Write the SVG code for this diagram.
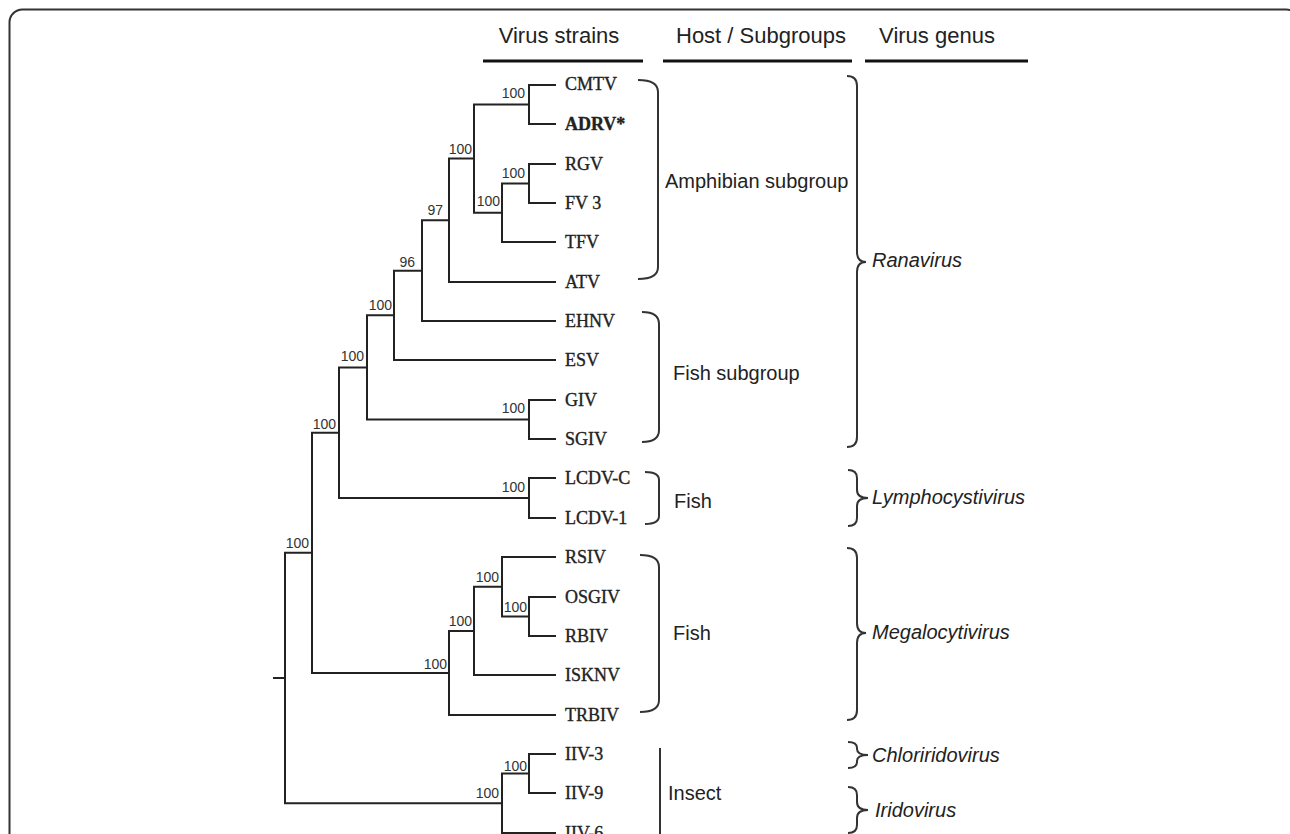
<svg xmlns="http://www.w3.org/2000/svg" width="1290" height="834" viewBox="0 0 1290 834">
<style>
.hd{font-family:"Liberation Sans",Arial,sans-serif;font-size:22px;fill:#222;text-anchor:middle}
.ul{stroke:#111;stroke-width:3;fill:none}
.lf{font-family:"Liberation Serif","Times New Roman",serif;font-size:18px;fill:#222;stroke:#222;stroke-width:0.35}
.bs{font-family:"Liberation Sans",Arial,sans-serif;font-size:14px;fill:#333;text-anchor:end}
.br{stroke:#222;stroke-width:2;fill:none}
.hs{font-family:"Liberation Sans",Arial,sans-serif;font-size:20px;fill:#222}
.gn{font-family:"Liberation Sans",Arial,sans-serif;font-size:20px;font-style:italic;fill:#222}
.bk{stroke:#333;stroke-width:2;fill:none}
</style>
<rect x="9.5" y="9.5" width="1290" height="900" rx="13" fill="#fff" stroke="#333" stroke-width="2"/>
<g id="headers">
<text class="hd" x="559" y="43">Virus strains</text>
<line class="ul" x1="483" y1="61" x2="643" y2="61"/>
<text class="hd" x="761" y="43">Host / Subgroups</text>
<line class="ul" x1="663" y1="61" x2="852" y2="61"/>
<text class="hd" x="937" y="43">Virus genus</text>
<line class="ul" x1="865" y1="61" x2="1028" y2="61"/>
</g>
<g id="connectors" class="br">
<path d="M273,678 H285"/>
<path d="M312,552.8 H285 V803.3 H502"/>
<path d="M339,432.7 H312 V673 H449"/>
<path d="M367,367.4 H339 V498 H529"/>
<path d="M394,315.3 H367 V419.5 H529"/>
<path d="M422,270.7 H394 V360 H556"/>
<path d="M449,220.3 H422 V321 H556"/>
<path d="M474,158.6 H449 V282 H556"/>
<path d="M529,104.5 H474 V212.75 H502"/>
<path d="M556,85 H529 V124 H556"/>
<path d="M529,183.5 H502 V242 H556"/>
<path d="M556,164 H529 V203 H556"/>
<path d="M556,400 H529 V439 H556"/>
<path d="M556,478 H529 V518 H556"/>
<path d="M474,630.9 H449 V715 H556"/>
<path d="M502,586.8 H474 V675 H556"/>
<path d="M556,557 H502 V616.5 H529"/>
<path d="M556,597 H529 V636 H556"/>
<path d="M529,773.5 H502 V833 H556"/>
<path d="M556,754 H529 V793 H556"/>
</g>
<g id="bootstrap">
<text class="bs" x="525" y="98">100</text>
<text class="bs" x="525" y="178">100</text>
<text class="bs" x="500" y="206">100</text>
<text class="bs" x="472" y="154">100</text>
<text class="bs" x="443" y="215">97</text>
<text class="bs" x="415" y="267">96</text>
<text class="bs" x="392" y="310">100</text>
<text class="bs" x="525" y="413">100</text>
<text class="bs" x="364" y="361">100</text>
<text class="bs" x="525" y="492">100</text>
<text class="bs" x="336" y="429">100</text>
<text class="bs" x="309" y="548">100</text>
<text class="bs" x="527" y="612">100</text>
<text class="bs" x="499" y="582">100</text>
<text class="bs" x="472" y="626">100</text>
<text class="bs" x="447" y="669">100</text>
<text class="bs" x="527" y="771">100</text>
<text class="bs" x="499" y="798">100</text>
</g>
<g id="leaves">
<g id="CMTV"><text class="lf" x="565" y="90">CMTV</text></g>
<g id="ADRV"><text class="lf" x="565" y="130" font-weight="bold">ADRV*</text></g>
<g id="RGV"><text class="lf" x="565" y="170">RGV</text></g>
<g id="FV3"><text class="lf" x="565" y="209">FV 3</text></g>
<g id="TFV"><text class="lf" x="565" y="248">TFV</text></g>
<g id="ATV"><text class="lf" x="565" y="288">ATV</text></g>
<g id="EHNV"><text class="lf" x="565" y="327">EHNV</text></g>
<g id="ESV"><text class="lf" x="565" y="366">ESV</text></g>
<g id="GIV"><text class="lf" x="565" y="406">GIV</text></g>
<g id="SGIV"><text class="lf" x="565" y="445">SGIV</text></g>
<g id="LCDV-C"><text class="lf" x="565" y="484">LCDV-C</text></g>
<g id="LCDV-1"><text class="lf" x="565" y="524">LCDV-1</text></g>
<g id="RSIV"><text class="lf" x="565" y="563">RSIV</text></g>
<g id="OSGIV"><text class="lf" x="565" y="603">OSGIV</text></g>
<g id="RBIV"><text class="lf" x="565" y="642">RBIV</text></g>
<g id="ISKNV"><text class="lf" x="565" y="681">ISKNV</text></g>
<g id="TRBIV"><text class="lf" x="565" y="721">TRBIV</text></g>
<g id="IIV-3"><text class="lf" x="565" y="760">IIV-3</text></g>
<g id="IIV-9"><text class="lf" x="565" y="799">IIV-9</text></g>
<g id="IIV-6"><text class="lf" x="565" y="839">IIV-6</text></g>
</g>
<g id="host-amphibian">
<path class="bk" d="M638,80 Q658,80 658,92 V267 Q658,279 638,279"/>
<text class="hs" x="665" y="188">Amphibian subgroup</text>
</g>
<g id="host-fish-subgroup">
<path class="bk" d="M642,312 Q659,312 659,324 V430 Q659,442 642,442"/>
<text class="hs" x="673" y="380">Fish subgroup</text>
</g>
<g id="host-fish-lcdv">
<path class="bk" d="M645,472 Q659,472 659,480 V516 Q659,524 645,524"/>
<text class="hs" x="674" y="508">Fish</text>
</g>
<g id="host-fish-megalo">
<path class="bk" d="M640,555 Q659,555 659,567 V700 Q659,712 640,712"/>
<text class="hs" x="673" y="640">Fish</text>
</g>
<g id="host-insect">
<line class="bk" x1="660" y1="748" x2="660" y2="840"/>
<text class="hs" x="668" y="800">Insect</text>
</g>
<g id="genus-ranavirus">
<path class="bk" d="M847,76 Q857,76 857,86 V252 Q857,262 866,262 Q857,262 857,272 V437 Q857,447 847,447"/>
<text class="gn" x="872" y="267">Ranavirus</text>
</g>
<g id="genus-lymphocystivirus">
<path class="bk" d="M848,470 Q857,470 857,478 V490 Q857,498 868,498 Q857,498 857,506 V518 Q857,526 848,526"/>
<text class="gn" x="872" y="504">Lymphocystivirus</text>
</g>
<g id="genus-megalocytivirus">
<path class="bk" d="M847,548 Q857,548 857,558 V623 Q857,633 866,633 Q857,633 857,643 V710 Q857,720 847,720"/>
<text class="gn" x="872" y="639">Megalocytivirus</text>
</g>
<g id="genus-chloriridovirus">
<path class="bk" d="M848,742 Q857,742 857,748 V749 Q857,755 868,755 Q857,755 857,761 V762 Q857,768 848,768"/>
<text class="gn" x="872" y="762">Chloriridovirus</text>
</g>
<g id="genus-iridovirus">
<path class="bk" d="M848,787 Q857,787 857,795 V802 Q857,810 868,810 Q857,810 857,818 V825 Q857,833 848,833"/>
<text class="gn" x="875" y="817">Iridovirus</text>
</g>
</svg>
